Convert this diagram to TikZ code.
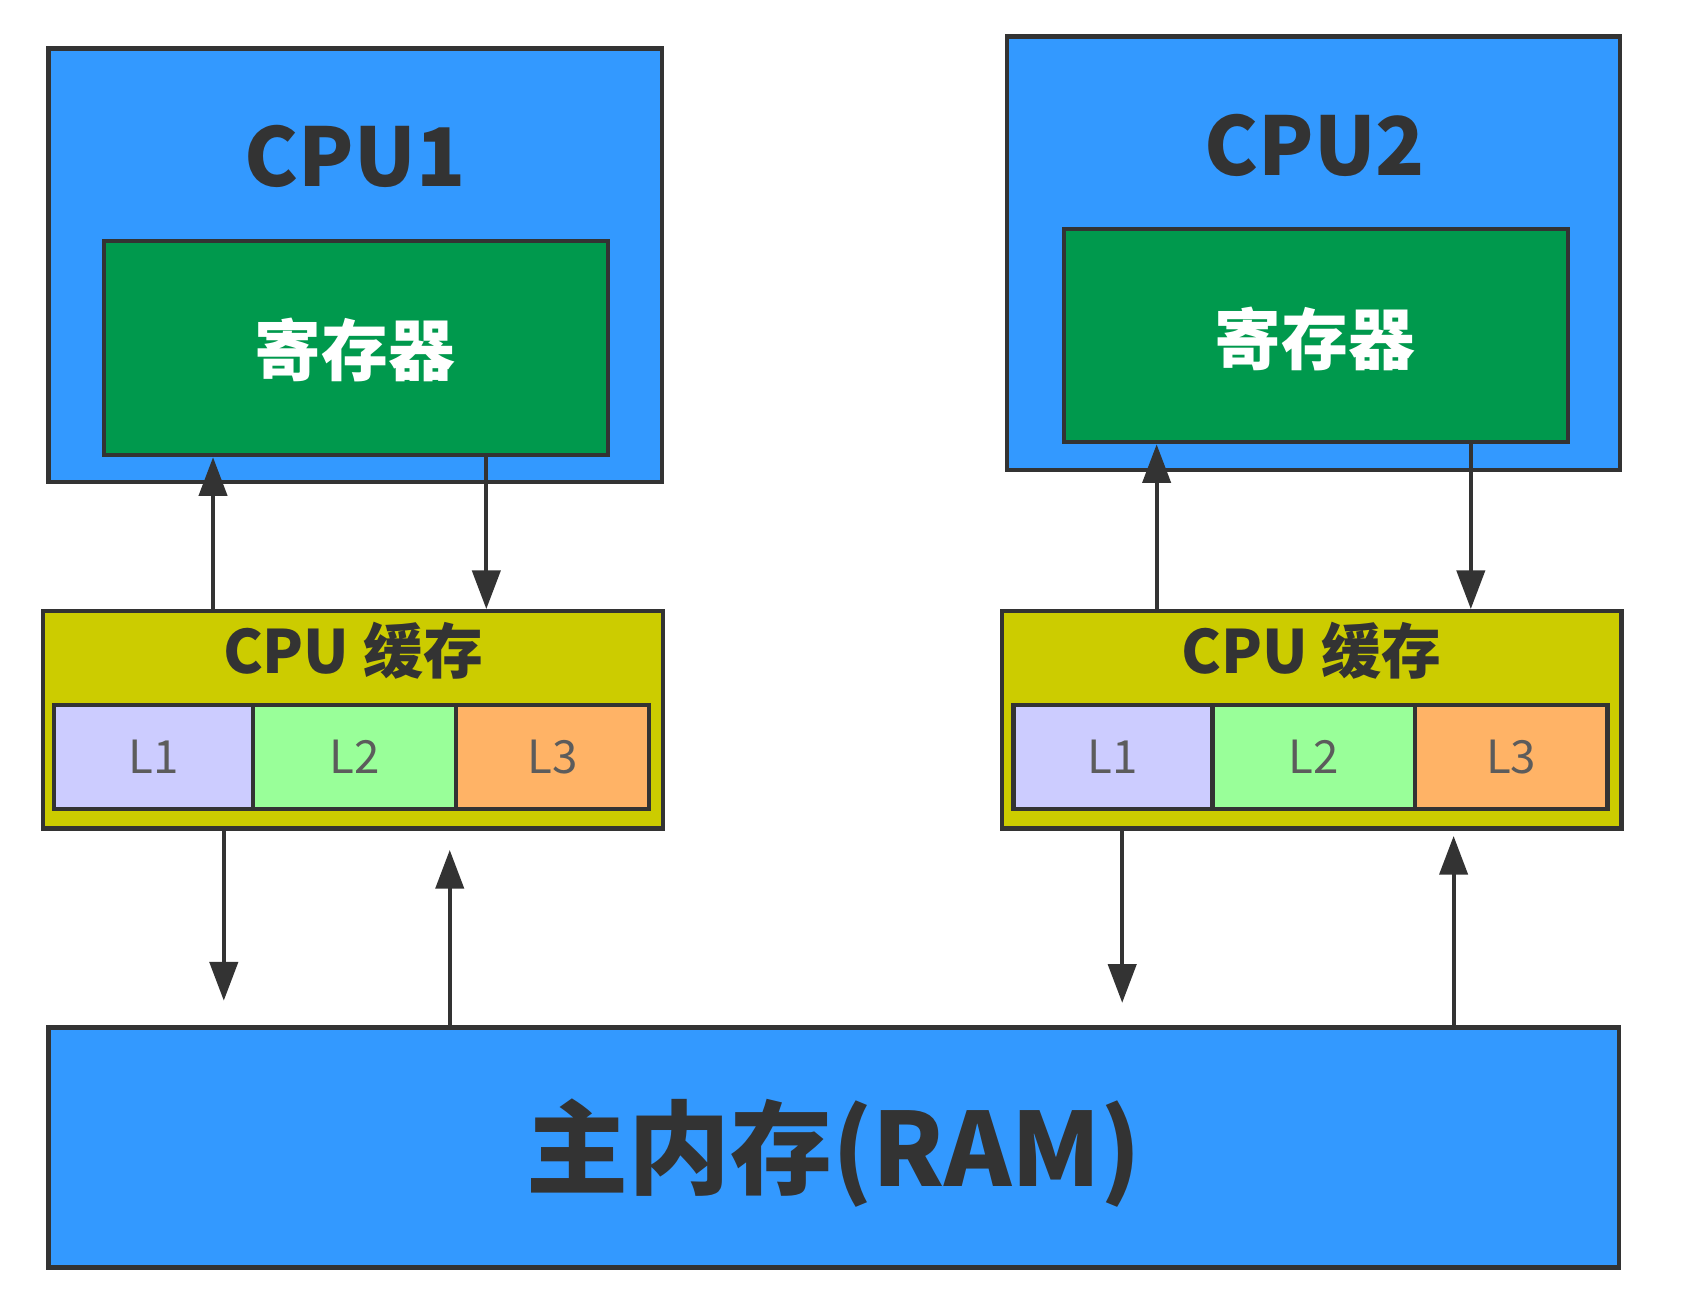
\documentclass[tikz,border=0pt]{standalone}
\usepackage{fontspec}
\setmainfont{Noto Sans CJK SC}
\usetikzlibrary{fit,arrows.meta}
\definecolor{cpublue}{HTML}{3399FF}
\definecolor{reggreen}{HTML}{00994D}
\definecolor{cacheyellow}{HTML}{CCCC00}
\definecolor{lone}{HTML}{CCCCFF}
\definecolor{ltwo}{HTML}{99FF99}
\definecolor{lthree}{HTML}{FFB366}
\definecolor{edge}{HTML}{333333}
\tikzset{
  box/.style={draw=edge,line width=1.2pt,inner sep=0pt},
  link/.style={draw=edge,line width=1.1pt,-{Triangle[length=11pt,width=8pt]}},
  title/.style={text=edge,font=\bfseries\fontsize{23}{26}\selectfont},
  cell/.style={text=edge!80,font=\fontsize{13}{15}\selectfont},
}
\begin{document}
\begin{tikzpicture}[x=0.01076cm,y=-0.01076cm]
  \useasboundingbox (0,0) rectangle (1567,1206);
  % main memory
  \node[box,fill=cpublue,fit={(45,955) (1505,1178)}] (ram) {};
  \node[title,font=\bfseries\fontsize{29}{32}\selectfont] at (775,1072) {主内存(RAM)};

  % CPU1
  \node[box,fill=cpublue,fit={(45,45) (615,448)}] (cpu1) {};
  \node[title] at (330,145) {CPU1};
  \node[box,fill=reggreen,fit={(97,224) (565,423)}] (reg1) {};
  \node[text=white,font=\bfseries\fontsize{19}{22}\selectfont] at (330,325) {寄存器};
  \node[box,fill=cacheyellow,fit={(40,568) (616,770)}] (cache1) {};
  \node[title,font=\bfseries\fontsize{17}{20}\selectfont] at (328,605) {CPU 缓存};
  \node[box,fill=lone,fit={(50,655) (235,752)}] (l1a) {};
  \node[box,fill=ltwo,fit={(235,655) (424,752)}] (l2a) {};
  \node[box,fill=lthree,fit={(424,655) (603,752)}] (l3a) {};
  \node[cell] at (l1a) {L1};
  \node[cell] at (l2a) {L2};
  \node[cell] at (l3a) {L3};

  % CPU2
  \node[box,fill=cpublue,fit={(936,34) (1506,437)}] (cpu2) {};
  \node[title] at (1222,135) {CPU2};
  \node[box,fill=reggreen,fit={(989,213) (1457,411)}] (reg2) {};
  \node[text=white,font=\bfseries\fontsize{19}{22}\selectfont] at (1222,315) {寄存器};
  \node[box,fill=cacheyellow,fit={(931,568) (1507,770)}] (cache2) {};
  \node[title,font=\bfseries\fontsize{17}{20}\selectfont] at (1219,605) {CPU 缓存};
  \node[box,fill=lone,fit={(942,655) (1127,752)}] (l1b) {};
  \node[box,fill=ltwo,fit={(1127,655) (1315,752)}] (l2b) {};
  \node[box,fill=lthree,fit={(1315,655) (1494,752)}] (l3b) {};
  \node[cell] at (l1b) {L1};
  \node[cell] at (l2b) {L2};
  \node[cell] at (l3b) {L3};

  % free ends
  \coordinate (d1) at (208,930);
  \coordinate (u1) at (418,790);
  \coordinate (d2) at (1043,932);
  \coordinate (u2) at (1351,777);

  \draw[link] (cache1.north -| 198,0) -- (reg1.south -| 198,0);
  \draw[link] (reg1.south -| 452,0) -- (cache1.north -| 452,0);
  \draw[link] (cache1.south -| d1) -- (d1);
  \draw[link] (ram.north -| u1) -- (u1);
  \draw[link] (cache2.north -| 1075,0) -- (reg2.south -| 1075,0);
  \draw[link] (reg2.south -| 1367,0) -- (cache2.north -| 1367,0);
  \draw[link] (cache2.south -| d2) -- (d2);
  \draw[link] (ram.north -| u2) -- (u2);
\end{tikzpicture}
\end{document}
